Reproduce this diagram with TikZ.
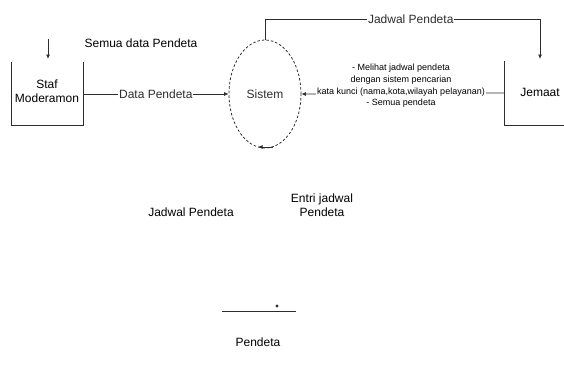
\documentclass[tikz,border=0pt]{standalone}
\usepackage{fontspec}
\setmainfont{Liberation Sans}
\usetikzlibrary{positioning,arrows.meta,shapes.geometric}
\definecolor{dfdgaris}{RGB}{45,45,45}

\begin{document}
\begin{tikzpicture}[x=1pt,y=-1pt,font=\fontsize{12}{14}\selectfont,
    garis/.style={dfdgaris,line width=0.8pt},
    panah/.style={garis,-{Latex[length=4.5pt,width=4pt]}},
    label/.style={fill=white,inner sep=1pt}]
    \useasboundingbox (0,0) rectangle (564,372);
    % Entitas luar: Staf Moderamon
    \node[align=center] (staf) at (47,91) {Staf\\Moderamon};
    \draw[garis] (11,62) -- (11,125) -- (83,125) -- (83,62);
    \coordinate (stafmasuk) at (48,39);
    \coordinate (stafatas) at (48,59);
    \coordinate (stafkanan) at (83,94);
    \draw[panah] (stafmasuk) -- (stafatas);
    \node (semua) at (141,43) {Semua data Pendeta};
    % Proses: Sistem
    \node[ellipse,draw,garis,dash pattern=on 2.5pt off 2pt,
          minimum width=72pt,minimum height=108pt,inner sep=0pt]
          (sistem) at (265,94) {Sistem};
    \coordinate (loopkanan) at (273,147);
    \coordinate (loopkiri) at (258,147);
    \draw[panah] (loopkanan) -- (loopkiri);
    % Entitas luar: Jemaat
    \node (jemaat) at (540,92) {Jemaat};
    \draw[garis] (504,61) -- (504,125) -- (564,125);
    \coordinate (jemaatatas) at (540,59);
    \coordinate (jemaatkiri) at (504,93);
    % Aliran data
    \draw[panah] (stafkanan) -- node[label]{Data Pendeta} (sistem.west);
    \draw[panah] (sistem.north) -- ++(0,-20)
        -| node[pos=0.265,label]{Jadwal Pendeta} (jemaatatas);
    \draw[panah] (jemaatkiri) -- (sistem.east);
    \node[label,align=center,font=\fontsize{9}{11.7}\selectfont]
        (cari) at (401,86) {- Melihat jadwal pendeta\\dengan sistem pencarian\\
        kata kunci (nama,kota,wilayah pelayanan)\\- Semua pendeta};
    \node (jadwal) at (191,212) {Jadwal Pendeta};
    \node[align=center] (entri) at (322,205) {Entri jadwal\\Pendeta};
    % Penyimpanan data: Pendeta
    \draw[garis] (222,311) -- (296,311);
    \fill[dfdgaris] (277,306) circle (1.6pt);
    \node (pendeta) at (258,342) {Pendeta};
\end{tikzpicture}
\end{document}
